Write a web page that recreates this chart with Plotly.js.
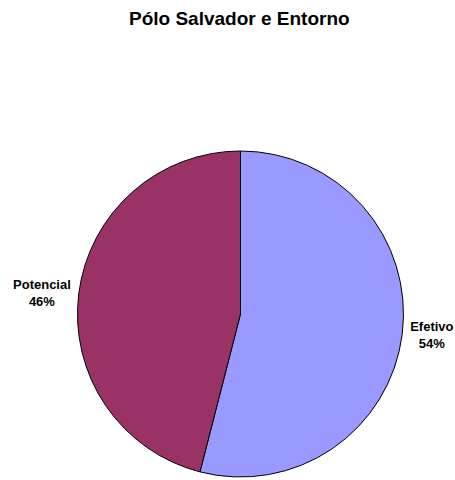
<!DOCTYPE html>
<html>
<head>
<meta charset="utf-8">
<script src="https://cdn.plot.ly/plotly-3.0.1.min.js"></script>
<style>html,body{margin:0;padding:0;background:#fff;}#chart{width:455px;height:480px;}</style>
</head>
<body>
<div id="chart"></div>
<script>
const categories = ["Efetivo", "Potencial"];
const values = [54, 46];
const colors = ["#9999FF", "#993366"];
const chartTitle = "Pólo Salvador e Entorno";

const trace = {
  type: "pie",
  labels: categories,
  values: values,
  sort: false,
  direction: "clockwise",
  rotation: 0,
  marker: {colors: colors, line: {color: "#000000", width: 1}},
  textposition: "outside",
  texttemplate: "%{label}<br>%{percent:.0%}",
  textfont: {family: "Liberation Sans, Arial, sans-serif", size: 13, color: "#000000", weight: "bold"},
  hoverinfo: "label+percent",
  domain: {x: [0.1703, 0.8868], y: [0.00625, 0.6854]},
  showlegend: false
};

const layout = {
  width: 455,
  height: 480,
  margin: {l: 0, r: 0, t: 0, b: 0},
  paper_bgcolor: "#ffffff",
  plot_bgcolor: "#ffffff",
  showlegend: false,
  title: {
    text: "<b>" + chartTitle + "</b>",
    font: {family: "Liberation Sans, Arial, sans-serif", size: 19, color: "#000000"},
    x: 0.526, xanchor: "center",
    y: 0.962, yanchor: "middle"
  }
};

Plotly.newPlot("chart", [trace], layout, {displayModeBar: false, staticPlot: true});
</script>
</body>
</html>
